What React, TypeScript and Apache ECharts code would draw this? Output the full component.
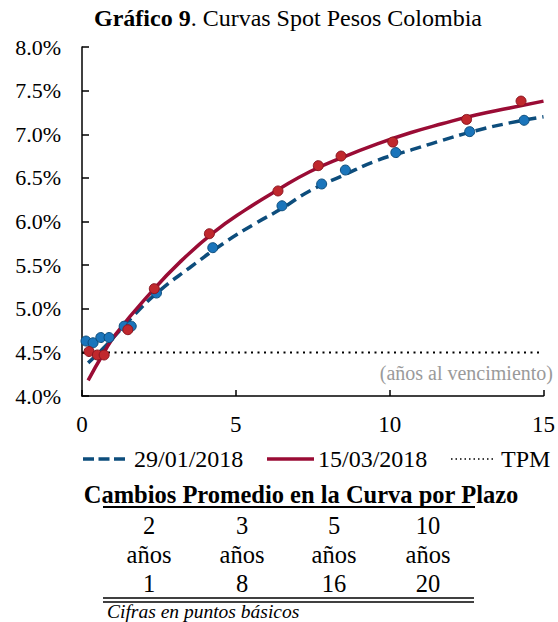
import * as echarts from 'echarts';
import { useEffect, useRef } from 'react';

// Curvas ajustadas (años, tasa %)
const curveJan: [number, number][] = [
  [0.2, 4.38], [0.7, 4.55], [1.1, 4.7], [1.7, 4.93], [2.5, 5.2], [3.5, 5.47],
  [4.6, 5.75], [5.6, 5.97], [6.5, 6.15], [7.4, 6.35], [8.5, 6.53], [9.6, 6.7],
  [10.7, 6.82], [11.7, 6.93], [12.8, 7.04], [13.9, 7.13], [15, 7.2],
];
const curveMar: [number, number][] = [
  [0.2, 4.18], [0.7, 4.49], [1.1, 4.71], [2.2, 5.17], [3.2, 5.54], [4.3, 5.88],
  [5.3, 6.13], [6.4, 6.37], [7.4, 6.57], [8.5, 6.74], [9.6, 6.89], [10.7, 7.02],
  [11.7, 7.12], [12.8, 7.22], [13.9, 7.3], [15, 7.38],
];

// Observaciones
const pointsJan: [number, number][] = [
  [0.13, 4.63], [0.36, 4.61], [0.61, 4.67], [0.88, 4.67], [1.37, 4.8], [1.6, 4.8],
  [2.42, 5.18], [4.25, 5.7], [6.5, 6.18], [7.79, 6.43], [8.56, 6.59], [10.2, 6.79],
  [12.6, 7.03], [14.37, 7.16],
];
const pointsMar: [number, number][] = [
  [0.23, 4.51], [0.5, 4.47], [0.72, 4.47], [1.49, 4.76], [2.35, 5.23], [4.14, 5.86],
  [6.37, 6.35], [7.68, 6.64], [8.42, 6.75], [10.1, 6.91], [12.5, 7.17], [14.27, 7.38],
];

const tpmRate = 4.5;
const tpmLine: [number, number][] = [[0, tpmRate], [15, tpmRate]];

const tableTerms = ['2', '3', '5', '10'];
const tableUnit = 'años';
const tableChanges = [1, 8, 16, 20];

const FONT = 'Liberation Serif, serif';
const BLUE_LINE = '#0d4d7c';
const BLUE_DOT = '#1b75bb';
const RED_LINE = '#9a0c35';
const RED_DOT = '#c0282d';

const App = () => {
  const chartRef = useRef<HTMLDivElement>(null);

  useEffect(() => {
    if (!chartRef.current) return;
    const chart = echarts.init(chartRef.current, null, { renderer: 'svg' });

    const colX = [149, 242, 334, 428];

    const cell = (x: number, y: number, text: string) => ({
      type: 'text',
      x,
      y,
      style: {
        text,
        fontFamily: FONT,
        fontSize: 24.5,
        fill: '#000',
        textAlign: 'center',
        textVerticalAlign: 'middle',
      },
    });

    const tableTexts = [
      ...tableTerms.map((t, i) => cell(colX[i], 525, t)),
      ...tableTerms.map((_, i) => cell(colX[i], 554, tableUnit)),
      ...tableChanges.map((v, i) => cell(colX[i], 583, String(v))),
    ];

    const legendText = (x: number, text: string) => ({
      type: 'text',
      x,
      y: 459,
      style: { text, fontFamily: FONT, fontSize: 24, fill: '#000', textVerticalAlign: 'middle' },
    });

    const option = {
      animation: false,
      title: {
        text: '{b|Gráfico 9}. Curvas Spot Pesos Colombia',
        left: 89,
        top: 1,
        textStyle: {
          fontFamily: FONT,
          fontSize: 24,
          fontWeight: 'normal',
          color: '#000',
          rich: {
            b: { fontFamily: FONT, fontSize: 24, fontWeight: 'bold', color: '#000' },
          },
        },
      },
      grid: { left: 82, top: 47, width: 466, height: 349 },
      xAxis: {
        type: 'value',
        min: 0,
        max: 15,
        interval: 5,
        axisLine: { lineStyle: { color: '#000', width: 1.5 } },
        axisTick: { inside: true, length: 6, lineStyle: { color: '#000', width: 1.5 } },
        axisLabel: { color: '#000', fontFamily: FONT, fontSize: 23, margin: 17 },
        splitLine: { show: false },
      },
      yAxis: {
        type: 'value',
        min: 4,
        max: 8,
        interval: 0.5,
        axisLine: { show: true, lineStyle: { color: '#000', width: 1.5 } },
        axisTick: { show: true, inside: true, length: 7, lineStyle: { color: '#000', width: 1.5 } },
        axisLabel: {
          color: '#000',
          fontFamily: FONT,
          fontSize: 22,
          margin: 21,
          formatter: (v: number) => `${v.toFixed(1)}%`,
        },
        splitLine: { show: false },
      },
      series: [
        {
          name: 'TPM',
          type: 'line',
          data: tpmLine,
          symbol: 'none',
          lineStyle: { color: '#000', width: 2, type: [2, 4.5] },
          z: 1,
        },
        {
          name: '29/01/2018',
          type: 'line',
          data: curveJan,
          smooth: true,
          symbol: 'none',
          lineStyle: { color: BLUE_LINE, width: 3.5, type: [11, 6] },
          z: 2,
        },
        {
          name: '15/03/2018',
          type: 'line',
          data: curveMar,
          smooth: true,
          symbol: 'none',
          lineStyle: { color: RED_LINE, width: 3.5 },
          z: 3,
        },
        {
          name: 'obs 29/01/2018',
          type: 'scatter',
          data: pointsJan,
          symbolSize: 10,
          itemStyle: { color: BLUE_DOT, borderColor: BLUE_LINE, borderWidth: 1, opacity: 1 },
          z: 4,
        },
        {
          name: 'obs 15/03/2018',
          type: 'scatter',
          data: pointsMar,
          symbolSize: 10,
          itemStyle: { color: RED_DOT, borderColor: '#8a1520', borderWidth: 1, opacity: 1 },
          z: 5,
        },
      ],
      graphic: [
        {
          type: 'text',
          x: 553,
          y: 373,
          style: {
            text: '(años al vencimiento)',
            fontFamily: FONT,
            fontSize: 20,
            fill: '#9a9a9a',
            textAlign: 'right',
            textVerticalAlign: 'middle',
          },
        },
        // leyenda
        {
          type: 'line',
          shape: { x1: 83, y1: 459, x2: 125, y2: 459 },
          style: { stroke: BLUE_LINE, lineWidth: 3.5, lineDash: [11, 4.5] },
        },
        legendText(134, '29/01/2018'),
        {
          type: 'line',
          shape: { x1: 267, y1: 459, x2: 314, y2: 459 },
          style: { stroke: RED_LINE, lineWidth: 3.5 },
        },
        legendText(318, '15/03/2018'),
        {
          type: 'line',
          shape: { x1: 451, y1: 459, x2: 495, y2: 459 },
          style: { stroke: '#000', lineWidth: 1.5, lineDash: [1.5, 3] },
        },
        legendText(501, 'TPM'),
        // tabla
        {
          type: 'text',
          x: 301,
          y: 494,
          style: {
            text: 'Cambios Promedio en la Curva por Plazo',
            fontFamily: FONT,
            fontSize: 24.5,
            fontWeight: 'bold',
            fill: '#000',
            textAlign: 'center',
            textVerticalAlign: 'middle',
          },
        },
        {
          type: 'line',
          shape: { x1: 103, y1: 507, x2: 475, y2: 507 },
          style: { stroke: '#000', lineWidth: 2 },
        },
        ...tableTexts,
        {
          type: 'line',
          shape: { x1: 103, y1: 598, x2: 474, y2: 598 },
          style: { stroke: '#000', lineWidth: 1.3 },
        },
        {
          type: 'line',
          shape: { x1: 103, y1: 602, x2: 474, y2: 602 },
          style: { stroke: '#000', lineWidth: 1.3 },
        },
        {
          type: 'text',
          x: 107,
          y: 611,
          style: {
            text: 'Cifras en puntos básicos',
            fontFamily: FONT,
            fontSize: 19.5,
            fontStyle: 'italic',
            fill: '#000',
            textVerticalAlign: 'middle',
          },
        },
      ],
    };

    chart.setOption(option);

    return () => {
      chart.dispose();
    };
  }, []);

  return (
    <div
      ref={chartRef}
      style={{ position: 'absolute', left: 0, top: 0, width: 558, height: 622, background: '#fff' }}
    />
  );
};

export default App;
